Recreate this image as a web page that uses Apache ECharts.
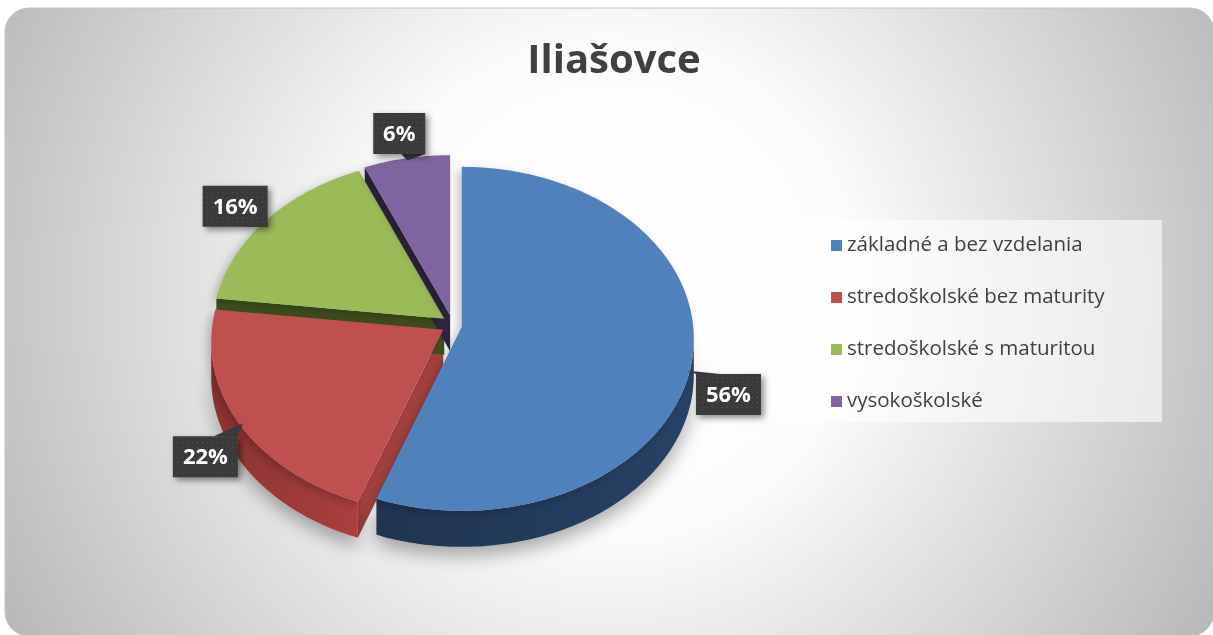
<!DOCTYPE html>
<html>
<head>
<meta charset="utf-8">
<title>Iliašovce</title>
<script src="https://cdn.jsdelivr.net/npm/echarts@6/dist/echarts.min.js"></script>
<style>
  html, body { margin: 0; padding: 0; background: #fff; }
  #main { width: 1213px; height: 635px; }
</style>
</head>
<body>
<div id="main"></div>
<script>
// vzdelanostná štruktúra obyvateľstva - podiely v %
var categories = [
  'základné a bez vzdelania',
  'stredoškolské bez maturity',
  'stredoškolské s maturitou',
  'vysokoškolské'
];
var shares = [56, 22, 16, 6];
var labelTexts = ['56%', '22%', '16%', '6%'];

var topColors = ['#4f81bd', '#c0504d', '#9bbb59', '#8064a2'];
var sideColors = ['#1f3552', '#8a3331', '#44561f', '#3b2d50'];
var wallColors = ['#27416a', '#a5413f', '#3e4f1c', '#2e2440'];

// geometria "3D" kolaca
var CX = 452, CY = 325, RX = 232, RY = 172, DY = 12, DEPTH = 36, EXPLODE = 10;

var total = shares.reduce(function (s, v) { return s + v; }, 0);

function dotPattern() {
  var c = document.createElement('canvas');
  c.width = 5; c.height = 5;
  var g = c.getContext('2d');
  g.fillStyle = '#3a3a3a';
  g.fillRect(0, 0, 5, 5);
  g.fillStyle = '#505050';
  g.fillRect(2, 2, 1, 1);
  return c;
}
var pattern = dotPattern();

var measureCtx = document.createElement('canvas').getContext('2d');
var labelFont = 'bold 22px "Open Sans"';
measureCtx.font = labelFont;

function pt(ax, ay, t, dy) {
  return [ax + RX * Math.sin(t), ay + DY - RY * Math.cos(t) + (dy || 0)];
}
function arc(ax, ay, s, e, dy) {
  var pts = [];
  var n = Math.max(2, Math.ceil((e - s) / (Math.PI / 180)));
  for (var k = 0; k <= n; k++) {
    pts.push(pt(ax, ay, s + (e - s) * k / n, dy));
  }
  return pts;
}

function renderSlice(idx) {
  return function (params, api) {
    var before = 0;
    for (var j = 0; j < idx; j++) before += shares[j];
    var a0 = before / total * Math.PI * 2;
    var a1 = (before + api.value(0)) / total * Math.PI * 2;
    var mid = (a0 + a1) / 2;
    var ax = CX + EXPLODE * Math.sin(mid);
    var ay = CY - EXPLODE * Math.cos(mid);
    var children = [];

    // bocne steny (rez)
    function wall(a) {
      var p = pt(ax, ay, a);
      return {
        type: 'polygon', z2: 1,
        shape: { points: [[ax, ay], p, [p[0], p[1] + DEPTH], [ax, ay + DEPTH]] },
        style: { fill: wallColors[idx] }
      };
    }
    if (Math.sin(a0) < -1e-6) children.push(wall(a0));
    if (Math.sin(a1) > 1e-6) children.push(wall(a1));

    // vonkajsi plast
    var s = Math.max(a0, Math.PI / 2), e = Math.min(a1, Math.PI * 1.5);
    if (e > s) {
      var topArc = arc(ax, ay, s, e, 0);
      var botArc = arc(ax, ay, s, e, DEPTH).reverse();
      children.push({
        type: 'polygon', z2: 2,
        shape: { points: topArc.concat(botArc) },
        style: {
          fill: {
            type: 'linear', x: 0, y: 0, x2: 1, y2: 0,
            colorStops: [
              { offset: 0, color: sideColors[idx] },
              { offset: 1, color: echarts.color.lift(sideColors[idx], -0.25) }
            ]
          },
          shadowBlur: 18, shadowColor: 'rgba(0,0,0,0.32)', shadowOffsetY: 9
        }
      });
    }

    // horna plocha
    children.push({
      type: 'polygon', z2: 10,
      shape: { points: [[ax, ay]].concat(arc(ax, ay, a0, a1, 0)) },
      style: {
        fill: topColors[idx],
        shadowBlur: 8, shadowColor: 'rgba(0,0,0,0.22)', shadowOffsetX: -4, shadowOffsetY: 3
      }
    });

    // popis
    var K = 1.17;
    var lx = ax + K * RX * Math.sin(mid);
    var ly = ay + DY - K * RY * Math.cos(mid) + (Math.cos(mid) < 0 ? DEPTH / 2 : 4);
    var txt = labelTexts[idx];
    var w = Math.round(measureCtx.measureText(txt).width) + 20, h = 41;
    var bx = lx - w / 2, by = ly - h / 2;
    var tip = pt(ax, ay, mid);
    tip = [ax + (tip[0] - ax) * 0.985, ay + (tip[1] - ay) * 0.985];
    var cornerX = tip[0] < lx ? bx : bx + w;
    var cornerY = tip[1] < ly ? by : by + h;
    var inward = tip[0] < lx ? 24 : -24;
    children.push({
      type: 'polygon', z2: 19,
      shape: { points: [tip, [cornerX, cornerY], [cornerX + inward, cornerY]] },
      style: { fill: '#3a3a3a' }
    });
    children.push({
      type: 'rect', z2: 20,
      shape: { x: bx, y: by, width: w, height: h },
      style: {
        fill: { image: pattern, repeat: 'repeat' },
        shadowBlur: 6, shadowColor: 'rgba(0,0,0,0.45)', shadowOffsetX: 3, shadowOffsetY: 3
      }
    });
    children.push({
      type: 'text', z2: 21,
      x: lx, y: ly + 1,
      style: {
        text: txt, fill: '#ffffff', font: labelFont,
        align: 'center', verticalAlign: 'middle'
      }
    });

    return { type: 'group', children: children };
  };
}

var chart = echarts.init(document.getElementById('main'));

var option = {
  animation: false,
  title: {
    text: 'Iliašovce',
    left: 609,
    top: 37,
    textAlign: 'center',
    textStyle: {
      fontFamily: 'Open Sans',
      fontSize: 40,
      fontWeight: 'bold',
      color: '#404040'
    }
  },
  legend: {
    orient: 'vertical',
    left: 831,
    top: 235,
    padding: 0,
    itemGap: 31,
    itemWidth: 11,
    itemHeight: 11,
    icon: 'rect',
    data: categories,
    textStyle: {
      fontFamily: 'Open Sans',
      fontSize: 20.5,
      lineHeight: 20,
      color: '#404040'
    }
  },
  graphic: [
    {
      type: 'rect', z: 0,
      shape: { x: 5, y: 8, width: 1209, height: 628, r: 24 },
      style: {
        fill: {
          type: 'radial', x: 0.5, y: 0.45, r: 1.1,
          colorStops: [
            { offset: 0, color: '#ffffff' },
            { offset: 0.35, color: '#fcfcfc' },
            { offset: 1, color: '#b8b8b8' }
          ]
        },
        stroke: '#c4c4c4',
        lineWidth: 1
      }
    },
    {
      type: 'rect', z: 1,
      shape: { x: 779, y: 220, width: 383, height: 202 },
      style: { fill: 'rgba(255,255,255,0.6)' }
    }
  ],
  series: categories.map(function (name, i) {
    return {
      type: 'custom',
      name: name,
      coordinateSystem: 'none',
      itemStyle: { color: topColors[i] },
      renderItem: renderSlice(i),
      data: [[shares[i]]]
    };
  })
};

chart.setOption(option);
</script>
</body>
</html>
